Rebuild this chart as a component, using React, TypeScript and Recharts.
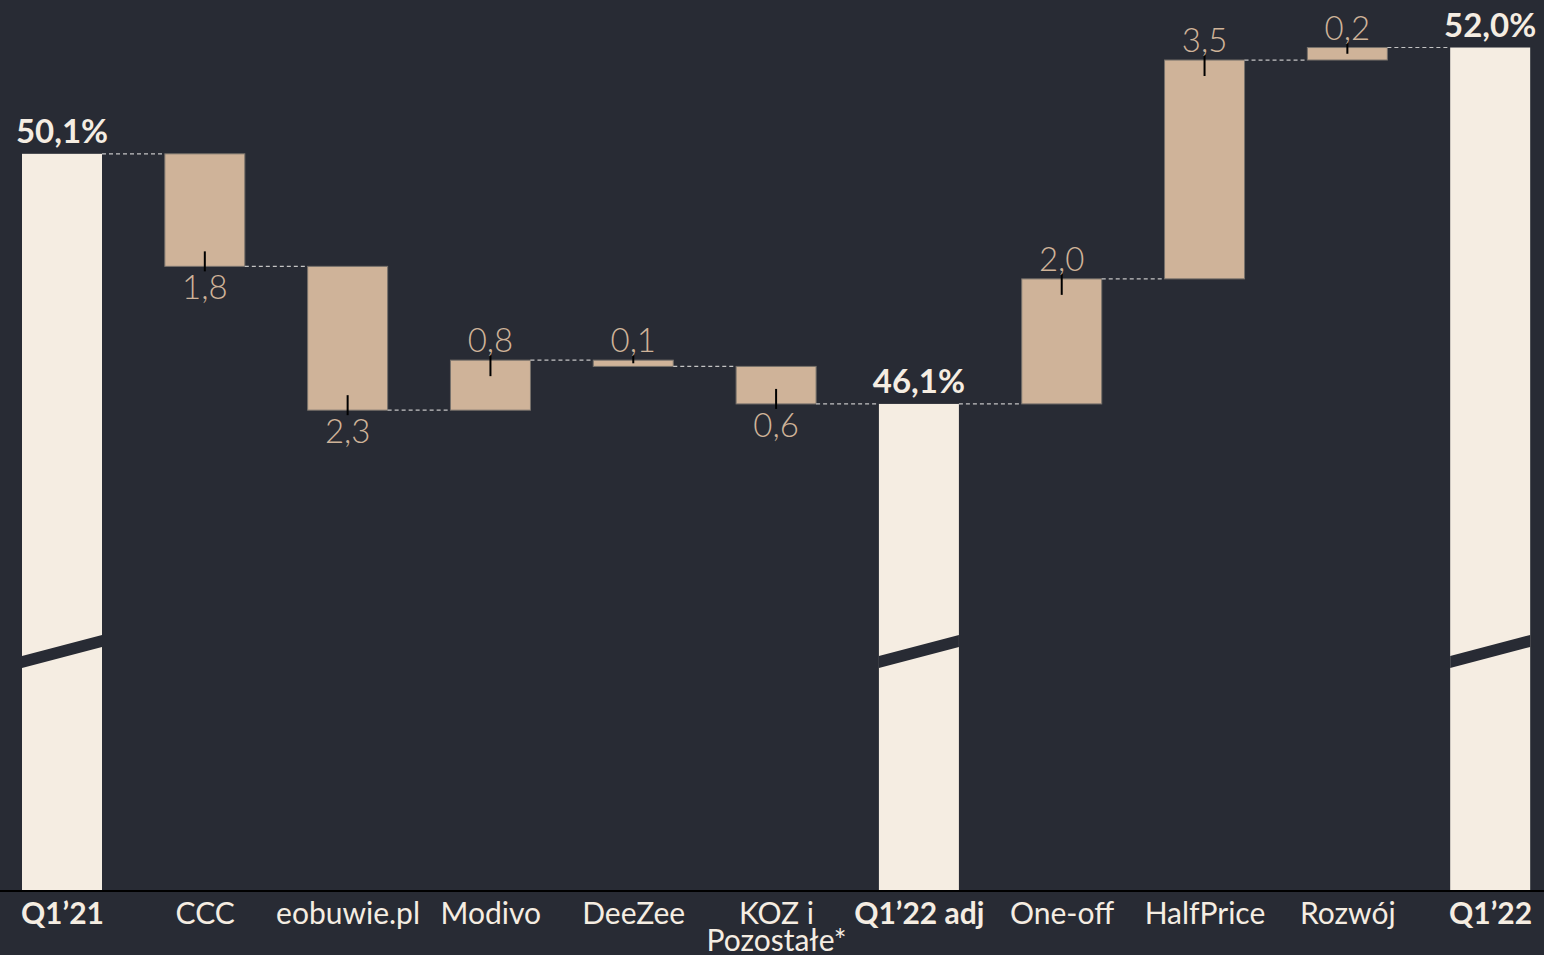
import { Bar, BarChart, XAxis, YAxis } from "recharts";

const categories = [
  "Q1’21",
  "CCC",
  "eobuwie.pl",
  "Modivo",
  "DeeZee",
  "KOZ i\nPozostałe*",
  "Q1’22 adj",
  "One-off",
  "HalfPrice",
  "Rozwój",
  "Q1’22",
];
const isTotal = [true, false, false, false, false, false, true, false, false, false, true];
// totals are levels, the rest are changes
const values = [50.1, -1.8, -2.3, 0.8, -0.1, -0.6, 46.1, 2.0, 3.5, 0.2, 51.8];
const valueLabels = ["50,1%", "1,8", "2,3", "0,8", "0,1", "0,6", "46,1%", "2,0", "3,5", "0,2", "52,0%"];

const AXIS_MIN = 38.31;
const AXIS_MAX = 52.56;

const BG = "#282b34";
const TOTAL_FILL = "#f5ede2";
const DELTA_FILL = "#cfb399";
const FONT = "Lato, 'Open Sans', sans-serif";

const CHART_W = 1571;
const CHART_H = 955;
const BAND = CHART_W / categories.length;
const BAR_SIZE = 80;

let level = 0;
const data = categories.map((name, i) => {
  const v = values[i];
  let range: [number, number];
  if (isTotal[i]) {
    range = [AXIS_MIN, v];
    level = v;
  } else {
    const next = level + v;
    range = [Math.min(level, next), Math.max(level, next)];
    level = next;
  }
  return { name, range, total: isTotal[i], delta: v, label: valueLabels[i], idx: i };
});

const WaterfallShape = (props: any) => {
  const { x, y, width, height, payload } = props;
  const top = Math.min(y, y + height);
  const h = Math.abs(height);
  const bottom = top + h;
  const cx = x + width / 2;
  const gap = BAND - width;
  const idx = payload.idx;

  if (payload.total) {
    return (
      <g>
        {idx > 0 && (
          <line x1={x - gap} x2={x} y1={top} y2={top} stroke="#c4c4c4" strokeWidth={1.2} strokeDasharray="4 3" />
        )}
        <rect x={x} y={top} width={width} height={h} fill={TOTAL_FILL} />
        <polygon
          points={`${x},${bottom - 235} ${x + width},${bottom - 256} ${x + width},${bottom - 244} ${x},${bottom - 223}`}
          fill={BG}
        />
        <text
          x={cx}
          y={top - 11}
          textAnchor="middle"
          fill={TOTAL_FILL}
          fontFamily={FONT}
          fontWeight={700}
          fontSize={33}
        >
          {payload.label}
        </text>
      </g>
    );
  }

  const up = payload.delta > 0;
  const startY = up ? bottom : top;
  const above = up || h < 20;
  const tickLen = Math.min(16, h / 2);
  return (
    <g>
      <line x1={x - gap} x2={x} y1={startY} y2={startY} stroke="#c4c4c4" strokeWidth={1.2} strokeDasharray="4 3" />
      <rect x={x} y={top} width={width} height={h} fill={DELTA_FILL} stroke="#77716b" strokeWidth={1} />
      {above ? (
        <line x1={cx} x2={cx} y1={top - 5} y2={top + tickLen} stroke="#000" strokeWidth={2} />
      ) : (
        <line x1={cx} x2={cx} y1={bottom - 15} y2={bottom + 5} stroke="#000" strokeWidth={2} />
      )}
      <text
        x={cx}
        y={above ? top - 8 : bottom + 33}
        textAnchor="middle"
        fill={DELTA_FILL}
        fontFamily={FONT}
        fontWeight={300}
        fontSize={33}
      >
        {payload.label}
      </text>
    </g>
  );
};

const CategoryTick = (props: any) => {
  const { x, y, payload, index } = props;
  const lines = String(payload.value).split("\n");
  const bold = isTotal[index];
  return (
    <text
      x={x}
      y={y}
      textAnchor="middle"
      fill={TOTAL_FILL}
      fontFamily={FONT}
      fontWeight={bold ? 700 : 400}
      fontSize={30}
    >
      {lines.map((line, i) => (
        <tspan key={i} x={x} dy={i === 0 ? 25 : 27}>
          {line}
        </tspan>
      ))}
    </text>
  );
};

export default function App() {
  return (
    <div
      style={{
        position: "absolute",
        left: 0,
        top: 0,
        width: 1544,
        height: 955,
        overflow: "hidden",
        background: BG,
      }}
    >
      <div style={{ position: "absolute", left: -9, top: 0 }}>
        <BarChart
          width={CHART_W}
          height={CHART_H}
          data={data}
          margin={{ top: 0, right: 0, bottom: 0, left: 0 }}
        >
          <XAxis
            dataKey="name"
            height={64}
            interval={0}
            tickLine={false}
            axisLine={{ stroke: "#000", strokeWidth: 2 }}
            tick={<CategoryTick />}
          />
          <YAxis hide type="number" domain={[AXIS_MIN, AXIS_MAX]} allowDataOverflow />
          <Bar
            dataKey="range"
            barSize={BAR_SIZE}
            shape={WaterfallShape}
            activeBar={false}
            isAnimationActive={false}
          />
        </BarChart>
      </div>
    </div>
  );
}
